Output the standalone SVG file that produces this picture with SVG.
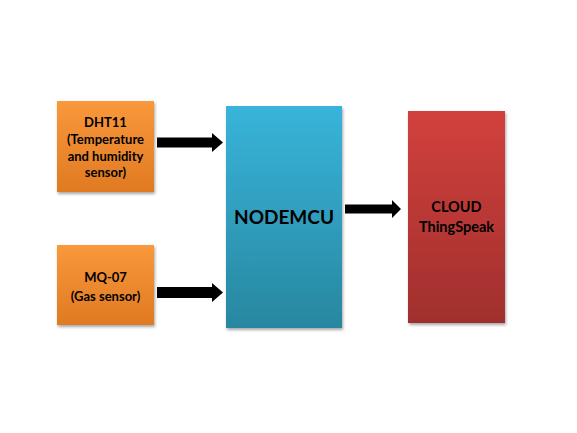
<svg xmlns="http://www.w3.org/2000/svg" width="577" height="433" viewBox="0 0 577 433">
<defs>
<linearGradient id="gOrange" x1="0" y1="0" x2="0" y2="1"><stop offset="0" stop-color="#f9983c"/><stop offset="1" stop-color="#e07a22"/></linearGradient>
<linearGradient id="gBlue" x1="0" y1="0" x2="0" y2="1"><stop offset="0" stop-color="#38b4da"/><stop offset="1" stop-color="#2887a0"/></linearGradient>
<linearGradient id="gRed" x1="0" y1="0" x2="0" y2="1"><stop offset="0" stop-color="#d2413d"/><stop offset="1" stop-color="#a02f2d"/></linearGradient>
<filter id="sh" x="-20%" y="-20%" width="140%" height="140%"><feGaussianBlur in="SourceAlpha" stdDeviation="1.5"/><feOffset dx="1" dy="2"/><feComponentTransfer><feFuncA type="linear" slope="0.35"/></feComponentTransfer><feMerge><feMergeNode/><feMergeNode in="SourceGraphic"/></feMerge></filter>
</defs>
<style>
text{font-family:"Lato","Open Sans","Liberation Sans",sans-serif;font-weight:bold;fill:#000;text-anchor:middle}
.s{font-size:13px}
.c{font-size:14.5px}
.b{font-size:19px}
.arrow{fill:#000}
</style>
<rect width="577" height="433" fill="#fff"/>
<g id="dht11">
<rect x="57" y="101" width="97" height="91" fill="url(#gOrange)" filter="url(#sh)"/>
<text class="s" x="105.5" y="127">DHT11</text>
<text class="s" x="105.5" y="144">(Temperature</text>
<text class="s" x="105.5" y="161">and humidity</text>
<text class="s" x="105.5" y="177">sensor)</text>
</g>
<g id="mq07">
<rect x="57" y="245" width="97" height="80" fill="url(#gOrange)" filter="url(#sh)"/>
<text class="s" x="105.5" y="282">MQ-07</text>
<text class="s" x="105.5" y="301">(Gas sensor)</text>
</g>
<g id="nodemcu">
<rect x="226" y="106" width="116" height="222" fill="url(#gBlue)" filter="url(#sh)"/>
<text class="b" x="284" y="224">NODEMCU</text>
</g>
<g id="cloud">
<rect x="408" y="111" width="97" height="212" fill="url(#gRed)" filter="url(#sh)"/>
<text class="c" x="456.5" y="212">CLOUD</text>
<text class="c" x="456.5" y="232">ThingSpeak</text>
</g>
<g id="connectors">
<polygon class="arrow" points="157,137.5 212,137.5 212,133 223,142.5 212,152 212,147.5 157,147.5"/>
<polygon class="arrow" points="157,287 212,287 212,283 223,292.5 212,302 212,298 157,298"/>
<polygon class="arrow" points="345,204.5 392,204.5 392,200 401,209 392,218 392,213.5 345,213.5"/>
</g>
</svg>
